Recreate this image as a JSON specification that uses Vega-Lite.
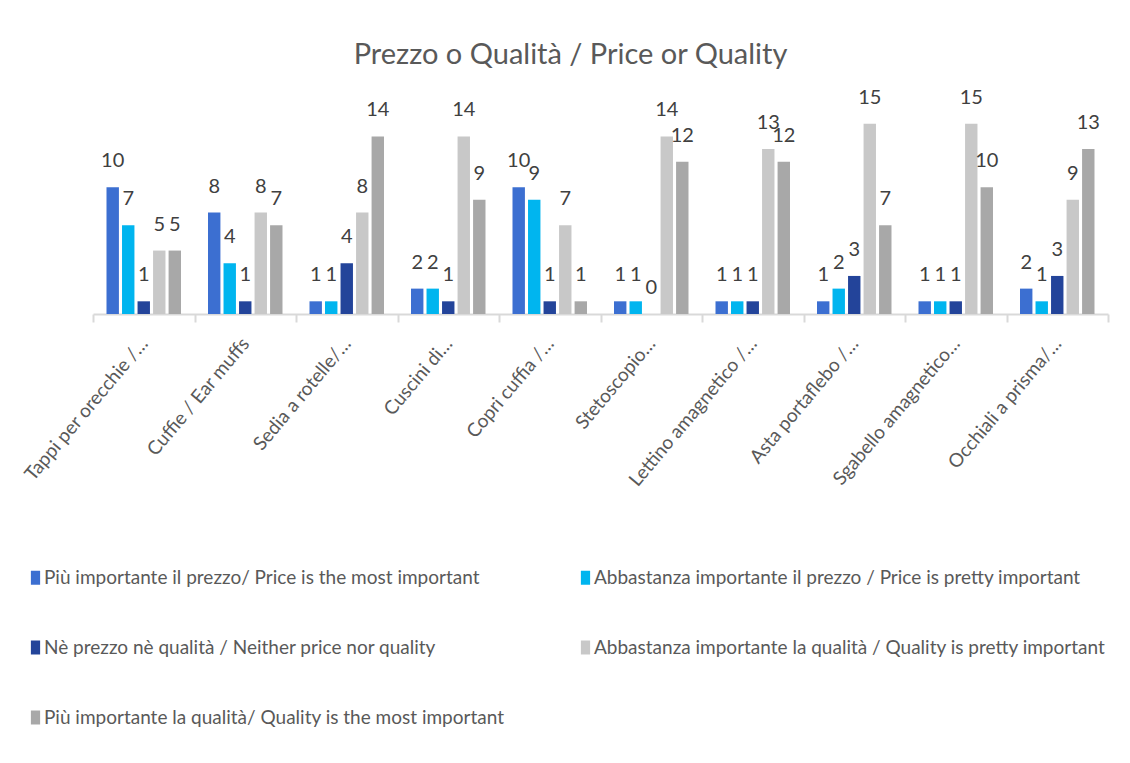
{
  "$schema": "https://vega.github.io/schema/vega-lite/v6.json",
  "autosize": {"type": "none"},
  "width": 1015,
  "height": 203,
  "padding": {"left": 93, "top": 111, "right": 22, "bottom": 449},
  "background": "white",
  "config": {
    "view": {"stroke": null},
    "font": "Lato"
  },
  "title": {
    "text": "Prezzo o Qualità / Price or Quality",
    "font": "Lato",
    "fontSize": 29,
    "fontWeight": "normal",
    "color": "#595959",
    "anchor": "middle",
    "baseline": "alphabetic",
    "offset": -5,
    "dx": -30
  },
  "data": {
    "values": [
      {"c": "Tappi per orecchie /…", "s": "Più importante il prezzo/ Price is the most important", "v": 10},
      {"c": "Tappi per orecchie /…", "s": "Abbastanza importante il prezzo / Price is pretty important", "v": 7},
      {"c": "Tappi per orecchie /…", "s": "Nè prezzo nè qualità / Neither price nor quality", "v": 1},
      {"c": "Tappi per orecchie /…", "s": "Abbastanza importante la qualità / Quality is pretty important", "v": 5},
      {"c": "Tappi per orecchie /…", "s": "Più importante la qualità/ Quality is the most important", "v": 5},
      {"c": "Cuffie / Ear muffs", "s": "Più importante il prezzo/ Price is the most important", "v": 8},
      {"c": "Cuffie / Ear muffs", "s": "Abbastanza importante il prezzo / Price is pretty important", "v": 4},
      {"c": "Cuffie / Ear muffs", "s": "Nè prezzo nè qualità / Neither price nor quality", "v": 1},
      {"c": "Cuffie / Ear muffs", "s": "Abbastanza importante la qualità / Quality is pretty important", "v": 8},
      {"c": "Cuffie / Ear muffs", "s": "Più importante la qualità/ Quality is the most important", "v": 7},
      {"c": "Sedia a rotelle/…", "s": "Più importante il prezzo/ Price is the most important", "v": 1},
      {"c": "Sedia a rotelle/…", "s": "Abbastanza importante il prezzo / Price is pretty important", "v": 1},
      {"c": "Sedia a rotelle/…", "s": "Nè prezzo nè qualità / Neither price nor quality", "v": 4},
      {"c": "Sedia a rotelle/…", "s": "Abbastanza importante la qualità / Quality is pretty important", "v": 8},
      {"c": "Sedia a rotelle/…", "s": "Più importante la qualità/ Quality is the most important", "v": 14},
      {"c": "Cuscini di…", "s": "Più importante il prezzo/ Price is the most important", "v": 2},
      {"c": "Cuscini di…", "s": "Abbastanza importante il prezzo / Price is pretty important", "v": 2},
      {"c": "Cuscini di…", "s": "Nè prezzo nè qualità / Neither price nor quality", "v": 1},
      {"c": "Cuscini di…", "s": "Abbastanza importante la qualità / Quality is pretty important", "v": 14},
      {"c": "Cuscini di…", "s": "Più importante la qualità/ Quality is the most important", "v": 9},
      {"c": "Copri cuffia /…", "s": "Più importante il prezzo/ Price is the most important", "v": 10},
      {"c": "Copri cuffia /…", "s": "Abbastanza importante il prezzo / Price is pretty important", "v": 9},
      {"c": "Copri cuffia /…", "s": "Nè prezzo nè qualità / Neither price nor quality", "v": 1},
      {"c": "Copri cuffia /…", "s": "Abbastanza importante la qualità / Quality is pretty important", "v": 7},
      {"c": "Copri cuffia /…", "s": "Più importante la qualità/ Quality is the most important", "v": 1},
      {"c": "Stetoscopio…", "s": "Più importante il prezzo/ Price is the most important", "v": 1},
      {"c": "Stetoscopio…", "s": "Abbastanza importante il prezzo / Price is pretty important", "v": 1},
      {"c": "Stetoscopio…", "s": "Nè prezzo nè qualità / Neither price nor quality", "v": 0},
      {"c": "Stetoscopio…", "s": "Abbastanza importante la qualità / Quality is pretty important", "v": 14},
      {"c": "Stetoscopio…", "s": "Più importante la qualità/ Quality is the most important", "v": 12},
      {"c": "Lettino amagnetico /…", "s": "Più importante il prezzo/ Price is the most important", "v": 1},
      {"c": "Lettino amagnetico /…", "s": "Abbastanza importante il prezzo / Price is pretty important", "v": 1},
      {"c": "Lettino amagnetico /…", "s": "Nè prezzo nè qualità / Neither price nor quality", "v": 1},
      {"c": "Lettino amagnetico /…", "s": "Abbastanza importante la qualità / Quality is pretty important", "v": 13},
      {"c": "Lettino amagnetico /…", "s": "Più importante la qualità/ Quality is the most important", "v": 12},
      {"c": "Asta portaflebo /…", "s": "Più importante il prezzo/ Price is the most important", "v": 1},
      {"c": "Asta portaflebo /…", "s": "Abbastanza importante il prezzo / Price is pretty important", "v": 2},
      {"c": "Asta portaflebo /…", "s": "Nè prezzo nè qualità / Neither price nor quality", "v": 3},
      {"c": "Asta portaflebo /…", "s": "Abbastanza importante la qualità / Quality is pretty important", "v": 15},
      {"c": "Asta portaflebo /…", "s": "Più importante la qualità/ Quality is the most important", "v": 7},
      {"c": "Sgabello amagnetico…", "s": "Più importante il prezzo/ Price is the most important", "v": 1},
      {"c": "Sgabello amagnetico…", "s": "Abbastanza importante il prezzo / Price is pretty important", "v": 1},
      {"c": "Sgabello amagnetico…", "s": "Nè prezzo nè qualità / Neither price nor quality", "v": 1},
      {"c": "Sgabello amagnetico…", "s": "Abbastanza importante la qualità / Quality is pretty important", "v": 15},
      {"c": "Sgabello amagnetico…", "s": "Più importante la qualità/ Quality is the most important", "v": 10},
      {"c": "Occhiali a prisma/…", "s": "Più importante il prezzo/ Price is the most important", "v": 2},
      {"c": "Occhiali a prisma/…", "s": "Abbastanza importante il prezzo / Price is pretty important", "v": 1},
      {"c": "Occhiali a prisma/…", "s": "Nè prezzo nè qualità / Neither price nor quality", "v": 3},
      {"c": "Occhiali a prisma/…", "s": "Abbastanza importante la qualità / Quality is pretty important", "v": 9},
      {"c": "Occhiali a prisma/…", "s": "Più importante la qualità/ Quality is the most important", "v": 13}
    ]
  },
  "encoding": {
    "x": {
      "field": "c",
      "type": "nominal",
      "sort": null,
      "scale": {"paddingInner": 0, "paddingOuter": 0},
      "axis": {
        "title": null,
        "labelAngle": -50,
        "labelFont": "Lato",
        "labelFontSize": 19,
        "labelColor": "#595959",
        "labelPadding": 18,
        "labelLimit": 400,
        "tickBand": "extent",
        "tickSize": 8,
        "tickColor": "#D9D9D9",
        "tickWidth": 2,
        "domainColor": "#D9D9D9",
        "domainWidth": 2,
        "grid": false
      }
    },
    "xOffset": {
      "field": "s",
      "type": "nominal",
      "sort": [
        "Più importante il prezzo/ Price is the most important",
        "Abbastanza importante il prezzo / Price is pretty important",
        "Nè prezzo nè qualità / Neither price nor quality",
        "Abbastanza importante la qualità / Quality is pretty important",
        "Più importante la qualità/ Quality is the most important"
      ],
      "scale": {"paddingInner": 0.2, "paddingOuter": 0.87}
    },
    "y": {
      "field": "v",
      "type": "quantitative",
      "scale": {"domain": [0, 16], "nice": false},
      "axis": null
    }
  },
  "layer": [
    {
      "mark": {"type": "bar"},
      "encoding": {
        "color": {
          "field": "s",
          "type": "nominal",
          "scale": {
            "domain": [
              "Più importante il prezzo/ Price is the most important",
              "Abbastanza importante il prezzo / Price is pretty important",
              "Nè prezzo nè qualità / Neither price nor quality",
              "Abbastanza importante la qualità / Quality is pretty important",
              "Più importante la qualità/ Quality is the most important"
            ],
            "range": ["#3C6FD1", "#00B5EF", "#23449A", "#C8C8C8", "#A8A8A8"]
          },
          "legend": {
            "title": null,
            "orient": "none",
            "direction": "horizontal",
            "legendX": -67,
            "legendY": 457,
            "columns": 2,
            "columnPadding": 71,
            "rowPadding": 50,
            "symbolType": "M-0.66,-1H0.66V1H-0.66Z",
            "symbolSize": 196,
            "symbolStrokeWidth": 0,
            "labelFont": "Lato",
            "labelFontSize": 19,
            "labelColor": "#595959",
            "labelLimit": 700,
            "labelOffset": -1
          }
        }
      }
    },
    {
      "mark": {
        "type": "text",
        "font": "Lato",
        "fontSize": 20,
        "color": "#404040",
        "baseline": "alphabetic",
        "dy": -20
      },
      "encoding": {
        "text": {"field": "v", "type": "quantitative"}
      }
    }
  ]
}
